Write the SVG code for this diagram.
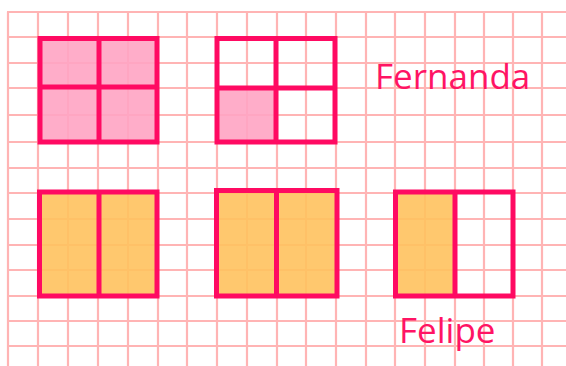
<svg xmlns="http://www.w3.org/2000/svg" width="566" height="366" viewBox="0 0 566 366">
<style>
.grid line{stroke:#ffb4b4;stroke-width:2.2}
.frame{fill:none;stroke:#ff0a62;stroke-width:5;stroke-linejoin:miter}
.div{stroke:#ff0a62;stroke-width:5}
.pink{fill:#ffa4c3;fill-opacity:0.9}
.orange{fill:#ffc25e;fill-opacity:0.9}
.label{font-family:"Open Sans","DejaVu Sans",sans-serif;font-size:35px;fill:#ff1464}
</style>
<rect width="566" height="366" fill="#ffffff"/>
<g class="grid" id="grid">
<line x1="8" y1="12" x2="8" y2="366"/>
<line x1="38" y1="12" x2="38" y2="366"/>
<line x1="68" y1="12" x2="68" y2="366"/>
<line x1="98" y1="12" x2="98" y2="366"/>
<line x1="128" y1="12" x2="128" y2="366"/>
<line x1="158" y1="12" x2="158" y2="366"/>
<line x1="187" y1="12" x2="187" y2="366"/>
<line x1="217" y1="12" x2="217" y2="366"/>
<line x1="247" y1="12" x2="247" y2="366"/>
<line x1="277" y1="12" x2="277" y2="366"/>
<line x1="306" y1="12" x2="306" y2="366"/>
<line x1="336" y1="12" x2="336" y2="366"/>
<line x1="366" y1="12" x2="366" y2="366"/>
<line x1="395" y1="12" x2="395" y2="366"/>
<line x1="425" y1="12" x2="425" y2="366"/>
<line x1="455" y1="12" x2="455" y2="366"/>
<line x1="484" y1="12" x2="484" y2="366"/>
<line x1="513" y1="12" x2="513" y2="366"/>
<line x1="542" y1="12" x2="542" y2="366"/>
<line x1="7" y1="12" x2="566" y2="12"/>
<line x1="7" y1="37" x2="566" y2="37"/>
<line x1="7" y1="63" x2="566" y2="63"/>
<line x1="7" y1="88" x2="566" y2="88"/>
<line x1="7" y1="115" x2="566" y2="115"/>
<line x1="7" y1="142" x2="566" y2="142"/>
<line x1="7" y1="168" x2="566" y2="168"/>
<line x1="7" y1="193" x2="566" y2="193"/>
<line x1="7" y1="219" x2="566" y2="219"/>
<line x1="7" y1="245" x2="566" y2="245"/>
<line x1="7" y1="270" x2="566" y2="270"/>
<line x1="7" y1="296" x2="566" y2="296"/>
<line x1="7" y1="321" x2="566" y2="321"/>
<line x1="7" y1="346" x2="566" y2="346"/>
</g>
<g id="fernanda-whole">
<rect class="pink" x="40" y="38.5" width="117" height="103.5"/>
<rect class="frame" x="40" y="38.5" width="117" height="103.5"/>
<line class="div" x1="99" y1="38.5" x2="99" y2="142"/>
<line class="div" x1="40" y1="87" x2="157" y2="87"/>
</g>
<g id="fernanda-quarter">
<rect class="pink" x="217" y="88" width="59" height="54"/>
<rect class="frame" x="217" y="38.5" width="118" height="103.5"/>
<line class="div" x1="276" y1="38.5" x2="276" y2="142"/>
<line class="div" x1="217" y1="88" x2="335" y2="88"/>
</g>
<g id="felipe-whole-1">
<rect class="orange" x="39.5" y="192" width="117.5" height="104"/>
<rect class="frame" x="39.5" y="192" width="117.5" height="104"/>
<line class="div" x1="99" y1="192" x2="99" y2="296"/>
</g>
<g id="felipe-whole-2">
<rect class="orange" x="216.5" y="190.5" width="120.5" height="105.5"/>
<rect class="frame" x="216.5" y="190.5" width="120.5" height="105.5"/>
<line class="div" x1="276.5" y1="190.5" x2="276.5" y2="296"/>
</g>
<g id="felipe-half">
<rect class="orange" x="395.5" y="192" width="59.5" height="104"/>
<rect class="frame" x="395.5" y="192" width="117.5" height="104"/>
<line class="div" x1="455" y1="192" x2="455" y2="296"/>
</g>
<g id="label-fernanda"><text class="label" x="375" y="89">Fernanda</text></g>
<g id="label-felipe"><text class="label" x="399" y="343">Felipe</text></g>
<g id="connectors"/>
</svg>
